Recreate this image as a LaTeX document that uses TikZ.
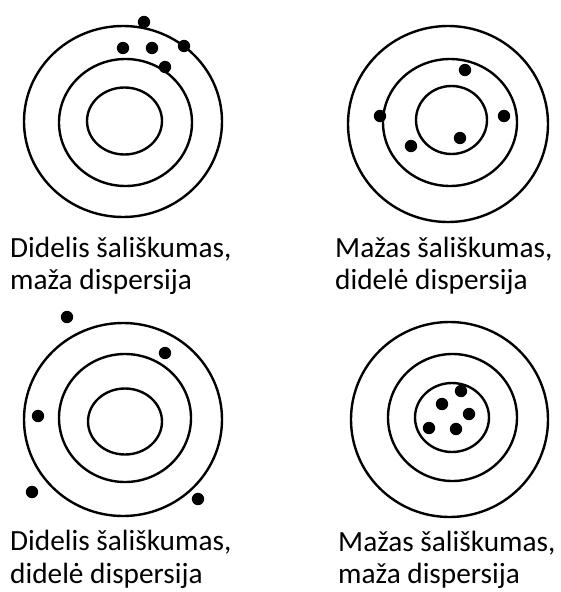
\documentclass[tikz,border=0pt]{standalone}
\usepackage{fontspec}
\setmainfont{Carlito}
\begin{document}
\begin{tikzpicture}[x=1pt,y=-1pt,
  ring/.style={draw=black,line width=2.4pt},
  dot/.style={fill=black},
  lbl/.style={anchor=base west,inner sep=0pt,font=\fontsize{29.3}{32}\selectfont,text=black}]
\useasboundingbox (0,0) rectangle (560,592);
% top-left target
\draw[ring] (123,121.5) ellipse [x radius=99,y radius=95.5];
\draw[ring] (125.5,122.5) ellipse [x radius=66.5,y radius=63.5];
\draw[ring] (124.5,121) ellipse [x radius=37.5,y radius=33.5];
\foreach \p in {(144,22),(123,48),(152,48),(184,46),(165,67)} \fill[dot] \p circle (6.2);
% top-right target
\draw[ring] (448,124) ellipse [x radius=100,y radius=98];
\draw[ring] (450,122.5) ellipse [x radius=67,y radius=63.5];
\draw[ring] (451.5,120) ellipse [x radius=35.5,y radius=34];
\foreach \p in {(465,70),(380,116),(504,116),(411,146),(460,138)} \fill[dot] \p circle (6.2);
% bottom-left target
\draw[ring] (123,419.5) ellipse [x radius=99,y radius=96.5];
\draw[ring] (125,418) ellipse [x radius=66,y radius=64];
\draw[ring] (125,421.5) ellipse [x radius=37,y radius=33];
\foreach \p in {(67,317),(165,353),(38,416),(32,492),(198,499)} \fill[dot] \p circle (6.2);
% bottom-right target
\draw[ring] (449.5,419.5) ellipse [x radius=98.5,y radius=97.5];
\draw[ring] (452.5,417.5) ellipse [x radius=64.5,y radius=63.5];
\draw[ring] (452,417.5) ellipse [x radius=37,y radius=34.5];
\foreach \p in {(461,391),(442,404),(469,414),(429,428),(456,429)} \fill[dot] \p circle (6.2);
% labels
\node[lbl] (t1a) at (10,257) {Didelis šališkumas,};
\node[lbl] (t1b) at (10,289) {maža dispersija};
\node[lbl] (t2a) at (335,257) {Mažas šališkumas,};
\node[lbl] (t2b) at (335,289) {didelė dispersija};
\node[lbl] (t3a) at (10,550) {Didelis šališkumas,};
\node[lbl] (t3b) at (10,583) {didelė dispersija};
\node[lbl] (t4a) at (338,551) {Mažas šališkumas,};
\node[lbl] (t4b) at (338,583) {maža dispersija};
\end{tikzpicture}
\end{document}
